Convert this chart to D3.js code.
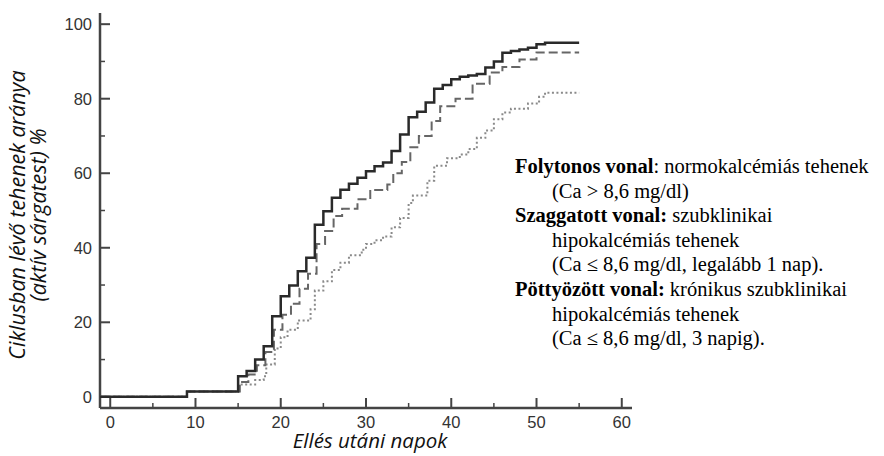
<!DOCTYPE html>
<html>
<head>
<meta charset="utf-8">
<script src="https://cdn.jsdelivr.net/npm/d3@7"></script>
<style>
  body { margin: 0; background: #fff; }
  svg { display: block; }
</style>
</head>
<body>
<svg id="chart" width="884" height="456"></svg>
<script>
// ticks
let x_ticks = [0, 10, 20, 30, 40, 50, 60];
let x_minor = [5, 15, 25, 35, 45, 55];
let y_ticks = [0, 20, 40, 60, 80, 100];
let y_minor = [10, 30, 50, 70, 90];

// [day, percent] step points
let solid_data = [[0, 0], [9, 1.4], [15, 5.5], [16, 6.9], [17, 10], [18, 13.6], [19, 21.6], [20, 27],
    [21, 29.9], [22, 33.7], [23, 37.3], [24, 46.2], [25, 49.8], [26, 53.4], [27, 55.6], [28, 57.2],
    [29, 58.8], [30, 60.5], [31, 61.9], [32, 62.9], [33, 66], [34, 70.4], [35, 75], [36, 76.5],
    [37, 79], [38, 82.7], [39, 83.7], [40, 85.2], [41, 85.9], [42, 86.2], [43, 86.6], [44, 88.4],
    [45, 90], [46, 92.3], [47, 92.8], [48, 93.2], [49, 93.7], [50, 94.6], [51, 95], [55, 95]];

let dashed_data = [[0, 0], [9, 1.4], [15.2, 4], [16.2, 6], [17.2, 8.5], [18.2, 12], [19.2, 18], [20.2, 22],
    [21.2, 25], [22.2, 29], [23.2, 33], [24.2, 41], [25.2, 44.5], [26.2, 48.5], [27.2, 50.5], [29, 53],
    [30.5, 55.5], [32.5, 57], [33.2, 60], [34.2, 63], [35.2, 67], [36.2, 70], [37.7, 74], [38.7, 78],
    [40.5, 80], [42.5, 84], [44.5, 87], [46, 88.5], [48, 90.5], [50, 92.4], [55, 92.4]];

let dotted_data = [[0, 0], [9, 1.4], [15, 3.3], [17, 4.5], [18, 5.5], [18.3, 8.7], [19.3, 13], [20, 16],
    [20.8, 18], [22, 20.5], [23.5, 23.5], [24, 28.5], [25, 31], [26, 34], [27, 36], [28, 38], [29.5, 39.5],
    [30, 41], [31, 42], [32, 43], [33, 45.5], [34, 48], [35, 52], [35.5, 54], [37.2, 58], [38, 62],
    [39.5, 64], [41, 65], [42, 66.5], [43, 69.5], [44, 71.5], [45, 74.5], [46, 76.3], [47, 77.3],
    [49, 78.7], [50.3, 80.5], [51, 81.6], [55, 81.6]];

let legend_lines = [
    {bold: 'Folytonos vonal', normal: ': normokalcémiás tehenek', indent: false},
    {bold: '', normal: '(Ca > 8,6 mg/dl)', indent: true},
    {bold: 'Szaggatott vonal:', normal: ' szubklinikai', indent: false},
    {bold: '', normal: 'hipokalcémiás tehenek', indent: true},
    {bold: '', normal: '(Ca ≤ 8,6 mg/dl, legalább 1 nap).', indent: true},
    {bold: 'Pöttyözött vonal:', normal: ' krónikus szubklinikai', indent: false},
    {bold: '', normal: 'hipokalcémiás tehenek', indent: true},
    {bold: '', normal: '(Ca ≤ 8,6 mg/dl, 3 napig).', indent: true}
];

let svg = d3.select('#chart');
let axis_color = '#444';

let x = d3.scaleLinear().domain([-1.2, 61.2]).range([100, 632]);
let y = d3.scaleLinear().domain([-3, 103]).range([408, 13]);

// axes
let x_axis = svg.append('g').attr('transform', 'translate(0,' + y.range()[0] + ')');
x_axis.append('line')
    .attr('x1', x.range()[0]).attr('x2', x.range()[1])
    .attr('stroke', axis_color).attr('stroke-width', 2.5);
x_axis.selectAll('.major').data(x_ticks).enter().append('line')
    .attr('x1', d => x(d)).attr('x2', d => x(d)).attr('y1', 0).attr('y2', -10)
    .attr('stroke', axis_color).attr('stroke-width', 2);
x_axis.selectAll('.minor').data(x_minor).enter().append('line')
    .attr('x1', d => x(d)).attr('x2', d => x(d)).attr('y1', 0).attr('y2', -5)
    .attr('stroke', axis_color).attr('stroke-width', 1.5);
x_axis.selectAll('text').data(x_ticks).enter().append('text')
    .attr('x', d => x(d)).attr('y', 20)
    .attr('text-anchor', 'middle')
    .attr('font-family', 'Liberation Sans, Arial, sans-serif')
    .attr('font-size', '16.5px').attr('fill', '#333')
    .text(d => d);

let y_axis = svg.append('g').attr('transform', 'translate(' + x.range()[0] + ',0)');
y_axis.append('line')
    .attr('y1', y.range()[0]).attr('y2', y.range()[1])
    .attr('stroke', axis_color).attr('stroke-width', 2.5);
y_axis.selectAll('.major').data(y_ticks).enter().append('line')
    .attr('y1', d => y(d)).attr('y2', d => y(d)).attr('x1', 0).attr('x2', 10)
    .attr('stroke', axis_color).attr('stroke-width', 2);
y_axis.selectAll('.minor').data(y_minor).enter().append('line')
    .attr('y1', d => y(d)).attr('y2', d => y(d)).attr('x1', 0).attr('x2', 5)
    .attr('stroke', axis_color).attr('stroke-width', 1.5);
y_axis.selectAll('text').data(y_ticks).enter().append('text')
    .attr('x', -8).attr('y', d => y(d) + 6)
    .attr('text-anchor', 'end')
    .attr('font-family', 'Liberation Sans, Arial, sans-serif')
    .attr('font-size', '16.5px').attr('fill', '#333')
    .text(d => d);

// curves
let line = d3.line()
    .x(d => x(d[0]))
    .y(d => y(d[1]))
    .curve(d3.curveStepAfter);

function add_curve(data, color, width, dash) {
    // start at the y axis like the original
    let pts = [[x.domain()[0], data[0][1]]].concat(data);
    svg.append('path')
        .datum(pts)
        .attr('d', line)
        .attr('fill', 'none')
        .attr('stroke', color)
        .attr('stroke-width', width)
        .attr('stroke-dasharray', dash);
}

add_curve(dotted_data, '#8a8a8a', 2, '2,2.5');
add_curve(dashed_data, '#666', 2, '9,4');
add_curve(solid_data, '#2a2a2a', 2.5, null);

// axis titles
let y_title = svg.append('text')
    .attr('transform', 'translate(0,215) rotate(-90)')
    .attr('text-anchor', 'middle')
    .attr('font-family', 'Open Sans, sans-serif')
    .attr('font-style', 'italic')
    .attr('font-size', '21.5px')
    .attr('fill', '#111');
y_title.append('tspan').attr('x', 0).attr('y', 25).text('Ciklusban lévő tehenek aránya');
y_title.append('tspan').attr('x', 0).attr('y', 46).text('(aktív sárgatest) %');

svg.append('text')
    .attr('x', 370).attr('y', 448)
    .attr('text-anchor', 'middle')
    .attr('font-family', 'Open Sans, sans-serif')
    .attr('font-style', 'italic')
    .attr('font-size', '20.5px')
    .attr('fill', '#111')
    .text('Ellés utáni napok');

// legend text
let legend = svg.append('g')
    .attr('font-family', 'Liberation Serif, Times New Roman, serif')
    .attr('font-size', '20.5px')
    .attr('fill', '#000');

legend_lines.forEach(function (row, i) {
    let t = legend.append('text')
        .attr('x', row.indent ? 552 : 515)
        .attr('y', 173 + i * 24.6);
    if (row.bold) {
        t.append('tspan').attr('font-weight', 'bold').text(row.bold);
    }
    t.append('tspan').text(row.normal);
});
</script>
</body>
</html>
